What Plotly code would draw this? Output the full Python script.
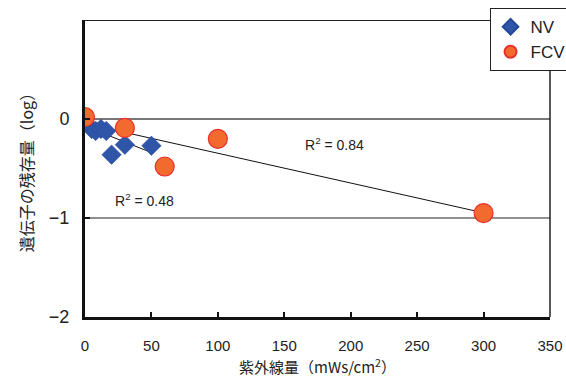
import numpy as np
import plotly.graph_objects as go

# ---- data ----
nv_x = [0, 5, 8, 12, 16, 20, 30, 50]
nv_y = [0.0, -0.10, -0.12, -0.10, -0.12, -0.36, -0.26, -0.27]
fcv_x = [0, 30, 60, 100, 300]
fcv_y = [0.02, -0.09, -0.48, -0.20, -0.95]
series_names = ["NV", "FCV"]
r2_labels = ["R<sup>2</sup> = 0.48", "R<sup>2</sup> = 0.84"]
x_ticks = [0, 50, 100, 150, 200, 250, 300, 350]
y_ticks = [-2, -1, 0]
y_ticktext = ["−2", "−1", "0"]

FONT = "Liberation Sans, Arial, Noto Sans CJK JP, sans-serif"
JP = "Noto Sans CJK JP, sans-serif"

fig = go.Figure()

# trend lines (least squares from the data)
for xs, ys in [(nv_x, nv_y), (fcv_x, fcv_y)]:
    k, b = np.polyfit(xs, ys, 1)
    lx = np.array([min(xs), max(xs)])
    fig.add_trace(go.Scatter(x=lx, y=k * lx + b, mode="lines",
                             line=dict(color="#111111", width=1),
                             showlegend=False, hoverinfo="skip"))

fig.add_trace(go.Scatter(x=nv_x, y=nv_y, mode="markers", name=series_names[0],
                         marker=dict(symbol="diamond", size=15, color="#2E55A8",
                                     line=dict(color="#24479a", width=0.5))))
fig.add_trace(go.Scatter(x=fcv_x, y=fcv_y, mode="markers", name=series_names[1],
                         marker=dict(symbol="circle", size=19, color="#F26A2E",
                                     line=dict(color="#E8312C", width=1.2))))

# gridlines / frame
fig.add_shape(type="line", xref="paper", yref="y", x0=0, x1=1, y0=0, y1=0,
              line=dict(color="#777777", width=1.8), layer="below")
fig.add_shape(type="line", xref="paper", yref="y", x0=0, x1=1, y0=-1, y1=-1,
              line=dict(color="#222222", width=1.2), layer="below")
fig.add_shape(type="line", xref="paper", yref="y", x0=0, x1=1, y0=1, y1=1,
              line=dict(color="#222222", width=2), layer="below")
fig.add_shape(type="line", xref="paper", yref="paper", x0=1, x1=1, y0=0, y1=1,
              line=dict(color="#222222", width=1.5), layer="below")

fig.add_annotation(x=45, y=-0.82, text=r2_labels[0], showarrow=False,
                   font=dict(family=FONT, size=14, color="#222222"))
fig.add_annotation(x=188, y=-0.25, text=r2_labels[1], showarrow=False,
                   font=dict(family=FONT, size=14, color="#222222"))

fig.update_layout(
    width=566, height=383,
    margin=dict(l=85, r=16, t=20, b=66, autoexpand=False),
    paper_bgcolor="white", plot_bgcolor="white",
    font=dict(family=FONT, color="#222222"),
    showlegend=True,
    legend=dict(x=0.87, y=1.04, xanchor="left", yanchor="top",
                bgcolor="white", bordercolor="#222222", borderwidth=1,
                font=dict(family=FONT, size=17, color="#222222"),
                itemsizing="constant", itemwidth=30, tracegroupgap=4),
    xaxis=dict(range=[0, 350], tickvals=x_ticks, showgrid=False, zeroline=False,
               automargin=False,
               showline=True, linecolor="#111111", linewidth=3,
               ticks="inside", ticklen=5, tickwidth=2, tickcolor="#111111",
               tickfont=dict(family=FONT, size=15), ticklabelstandoff=13,
               title=dict(text="紫外線量（mWs/cm<sup>2</sup>）",
                          font=dict(family=JP, size=15), standoff=10)),
    yaxis=dict(range=[-2, 1], tickvals=y_ticks, ticktext=y_ticktext,
               showgrid=False, zeroline=False, automargin=False,
               showline=True, linecolor="#111111", linewidth=3,
               ticks="inside", ticklen=5, tickwidth=2, tickcolor="#111111",
               tickfont=dict(family=FONT, size=18), ticklabelstandoff=9,
               title=dict(text="遺伝子の残存量（log）",
                          font=dict(family=JP, size=16), standoff=12)),
)

fig.write_html("out.html", config={"displayModeBar": False},
               post_script="document.body.style.margin='0';"
                           "document.body.style.overflow='hidden';")
